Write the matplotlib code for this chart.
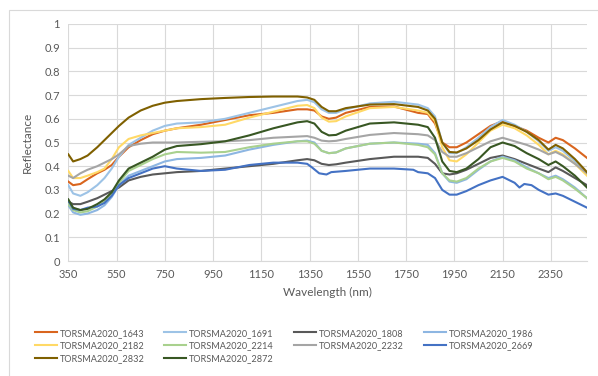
import matplotlib
matplotlib.use("Agg")
import matplotlib.pyplot as plt
from matplotlib.patches import Rectangle

wavelength = [350, 370, 400, 430, 470, 500, 530, 560, 600, 650, 700, 750, 800, 900, 1000,
              1100, 1200, 1300, 1340, 1370, 1400, 1430, 1460, 1500, 1600, 1700, 1800, 1840,
              1870, 1900, 1930, 1960, 2000, 2050, 2100, 2150, 2200, 2250, 2300, 2340, 2370,
              2400, 2450, 2500]

s1643 = [.335, .32, .325, .345, .37, .385, .405, .44, .48, .51, .535, .55, .56, .575, .595,
         .615, .625, .64, .64, .635, .61, .60, .605, .625, .65, .652, .625, .62,
         .58, .50, .48, .48, .50, .535, .57, .59, .57, .55, .52, .50, .52,
         .51, .475, .435]
s1691 = [.32, .285, .275, .29, .32, .35, .39, .44, .49, .52, .55, .57, .58, .585, .60,
         .625, .65, .675, .68, .67, .64, .625, .625, .64, .665, .672, .66, .645,
         .61, .50, .455, .455, .48, .52, .565, .595, .575, .545, .505, .465, .48,
         .465, .42, .37]
s1808 = [.25, .24, .24, .25, .265, .28, .295, .31, .34, .355, .365, .37, .375, .38, .39,
         .40, .41, .425, .43, .425, .41, .405, .408, .415, .43, .44, .44, .435,
         .41, .37, .365, .37, .385, .41, .435, .445, .43, .41, .39, .375, .395,
         .38, .35, .32]
s1986 = [.235, .205, .195, .20, .215, .235, .27, .32, .36, .38, .40, .42, .43, .435, .445,
         .47, .49, .505, .508, .50, .465, .455, .458, .475, .495, .50, .495, .49,
         .455, .37, .335, .33, .345, .385, .42, .44, .425, .395, .37, .35, .36,
         .345, .31, .265]
s2182 = [.38, .35, .35, .36, .375, .39, .43, .48, .515, .53, .54, .55, .56, .565, .575,
         .605, .63, .655, .658, .645, .605, .588, .59, .61, .645, .65, .635, .625,
         .59, .48, .425, .42, .45, .50, .55, .575, .56, .53, .49, .45, .465,
         .45, .41, .36]
s2214 = [.24, .215, .205, .21, .23, .25, .28, .33, .38, .405, .43, .45, .46, .457, .46,
         .48, .495, .505, .505, .495, .465, .455, .458, .475, .495, .50, .49, .48,
         .45, .37, .34, .335, .35, .39, .42, .435, .42, .39, .37, .345, .355,
         .34, .305, .265]
s2232 = [.36, .35, .37, .385, .40, .415, .43, .45, .485, .495, .50, .50, .50, .503, .505,
         .51, .52, .525, .527, .52, .508, .505, .507, .515, .532, .54, .535, .53,
         .51, .46, .44, .44, .455, .48, .505, .52, .505, .49, .47, .45, .46,
         .445, .41, .37]
s2832 = [.45, .42, .43, .445, .48, .51, .54, .57, .605, .635, .655, .668, .675, .683, .688,
         .692, .694, .694, .69, .68, .65, .632, .632, .645, .66, .662, .65, .635,
         .60, .50, .46, .458, .475, .51, .555, .585, .57, .545, .51, .47, .49,
         .475, .43, .375]
s2872 = [.26, .225, .215, .22, .24, .26, .29, .34, .39, .415, .44, .47, .485, .493, .505,
         .53, .56, .585, .59, .58, .545, .53, .532, .55, .58, .585, .575, .565,
         .52, .42, .38, .375, .39, .43, .48, .50, .485, .455, .43, .405, .42,
         .40, .36, .31]

wavelength_2669 = [350, 370, 400, 430, 470, 500, 530, 560, 600, 650, 700, 750, 800, 900, 1000,
                   1100, 1200, 1300, 1340, 1360, 1390, 1420, 1440, 1500, 1600, 1700, 1780,
                   1800, 1840, 1870, 1900, 1930, 1960, 2000, 2050, 2100, 2150, 2180, 2200,
                   2220, 2240, 2270, 2300, 2340, 2370, 2400, 2450, 2500]
s2669 = [.255, .22, .215, .225, .23, .245, .275, .32, .35, .37, .39, .40, .39, .38, .385,
         .405, .415, .415, .41, .395, .37, .365, .375, .38, .39, .39, .385,
         .375, .37, .35, .30, .28, .28, .295, .32, .34, .355, .34, .33,
         .31, .325, .32, .30, .28, .285, .275, .25, .225]

series = [
    ("TORSMA2020_1643", wavelength, s1643, "#D9651E"),
    ("TORSMA2020_1691", wavelength, s1691, "#9DC3E6"),
    ("TORSMA2020_1808", wavelength, s1808, "#595959"),
    ("TORSMA2020_1986", wavelength, s1986, "#8DB6E2"),
    ("TORSMA2020_2182", wavelength, s2182, "#FFD966"),
    ("TORSMA2020_2214", wavelength, s2214, "#A9D18E"),
    ("TORSMA2020_2232", wavelength, s2232, "#A5A5A5"),
    ("TORSMA2020_2669", wavelength_2669, s2669, "#4472C4"),
    ("TORSMA2020_2832", wavelength, s2832, "#7F6000"),
    ("TORSMA2020_2872", wavelength, s2872, "#385723"),
]

xticks = [350, 550, 750, 950, 1150, 1350, 1550, 1750, 1950, 2150, 2350]
yticks = [0, 0.1, 0.2, 0.3, 0.4, 0.5, 0.6, 0.7, 0.8, 0.9, 1]
ytick_labels = ["0", "0.1", "0.2", "0.3", "0.4", "0.5", "0.6", "0.7", "0.8", "0.9", "1"]

plt.rcParams['font.family'] = ['Lato', 'DejaVu Sans']
W, H = 598, 376
fig = plt.figure(figsize=(W / 100, H / 100), dpi=100)
fig.patches.append(Rectangle((9 / W, -0.1), 1.2, 1.1 - 10 / H, transform=fig.transFigure,
                             fill=False, edgecolor="#D9D9D9", linewidth=0.8))

ax = fig.add_axes([68.3 / W, 1 - 261 / H, (587 - 68.3) / W, (261 - 24) / H])
handles = []
for name, x, y, c in series:
    h, = ax.plot(x, y, color=c, linewidth=1.5, label=name)
    handles.append(h)

ax.set_xlim(350, 2500)
ax.set_ylim(0, 1)
ax.set_xticks(xticks)
ax.set_xticklabels([str(t) for t in xticks])
ax.set_yticks(yticks)
ax.set_yticklabels(ytick_labels)
ax.grid(True, color="#D9D9D9", linewidth=0.8)
ax.set_axisbelow(True)
for s in ["top", "right", "left"]:
    ax.spines[s].set_visible(False)
ax.spines["bottom"].set_color("#D9D9D9")
ax.tick_params(length=0, colors="#595959", labelsize=8, pad=6)
ax.set_xlabel("Wavelength (nm)", color="#595959", fontsize=8.5, labelpad=5)
ax.set_ylabel("Reflectance", color="#595959", fontsize=8.5, labelpad=8)

# legend filled row by row (matplotlib fills by column: 3,3,2,2)
order = [0, 4, 8, 1, 5, 9, 2, 6, 3, 7]
fig.legend([handles[i] for i in order], [series[i][0] for i in order],
           ncol=4, loc="upper left", bbox_to_anchor=(31 / W, 1 - 325 / H), frameon=False,
           fontsize=6.6, handlelength=2.4, handletextpad=0.3, columnspacing=2.2,
           labelspacing=0.42, labelcolor="#595959", borderaxespad=0)

fig.savefig("out.png", dpi=100)
